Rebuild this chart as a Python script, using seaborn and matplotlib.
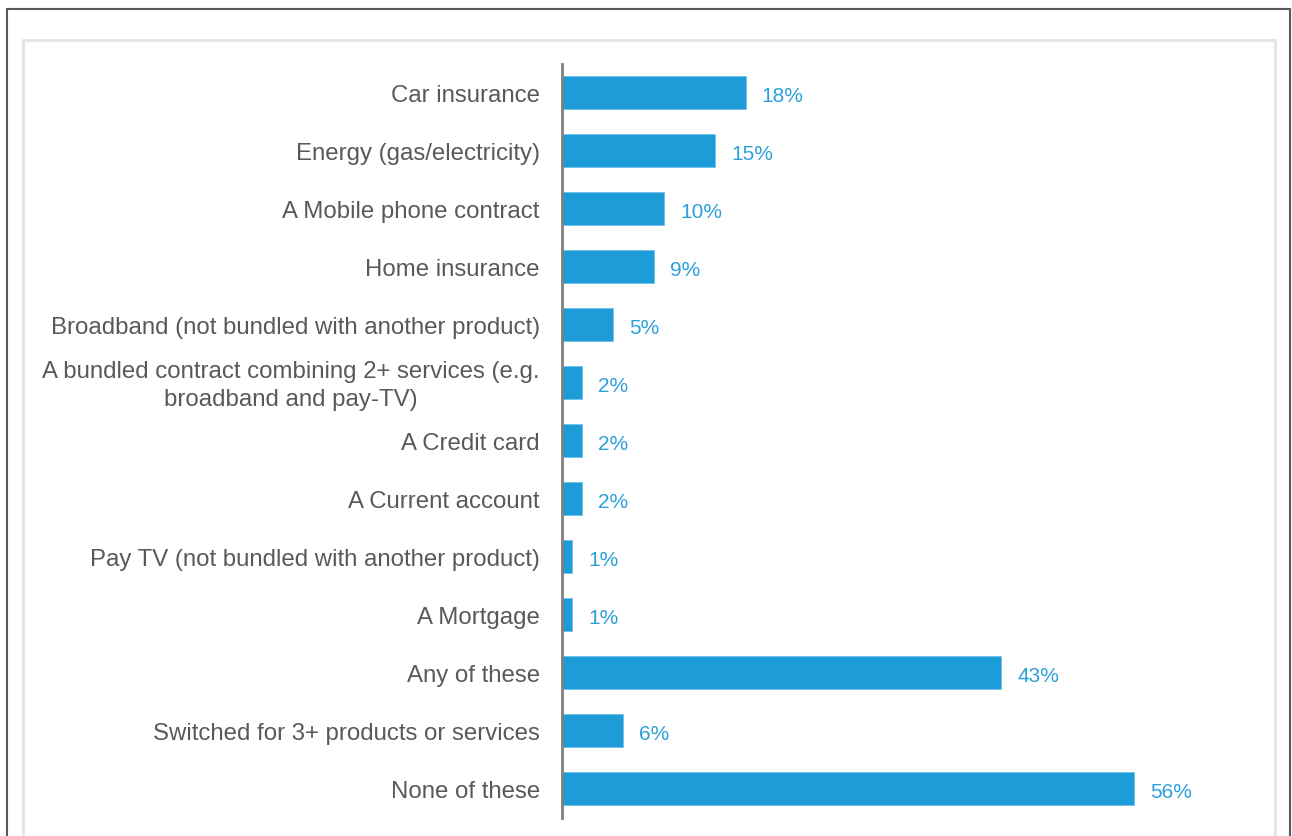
import matplotlib
matplotlib.use("Agg")
import matplotlib.pyplot as plt
import matplotlib.transforms as mtransforms
import seaborn as sns
import pandas as pd
from matplotlib.patches import Rectangle

categories = [
    "Car insurance",
    "Energy (gas/electricity)",
    "A Mobile phone contract",
    "Home insurance",
    "Broadband (not bundled with another product)",
    "A bundled contract combining 2+ services (e.g.\nbroadband and pay-TV)",
    "A Credit card",
    "A Current account",
    "Pay TV (not bundled with another product)",
    "A Mortgage",
    "Any of these",
    "Switched for 3+ products or services",
    "None of these",
]
values = [18, 15, 10, 9, 5, 2, 2, 2, 1, 1, 43, 6, 56]

df = pd.DataFrame({"category": categories, "share": values})

sns.set_theme(style="white")
plt.rcParams["font.family"] = ["Liberation Sans", "DejaVu Sans"]

W, H = 1292, 837
fig = plt.figure(figsize=(W / 100, H / 100), dpi=100)

# outer and inner frames (open at the bottom)
fig.patches.append(Rectangle((6.5 / W, -0.05), (1290 - 6.5) / W, 1.05 - 9.5 / H,
                             transform=fig.transFigure, fill=False,
                             edgecolor="#595959", linewidth=1.5))
fig.patches.append(Rectangle((23 / W, -0.05), (1275 - 23) / W, 1.05 - 41 / H,
                             transform=fig.transFigure, fill=False,
                             edgecolor="#E6E6E6", linewidth=2.2))

ax_left, ax_right = 562, 1250
ax_top, ax_bottom = 64.5, 818.5
ax = fig.add_axes([ax_left / W, (H - ax_bottom) / H,
                   (ax_right - ax_left) / W, (ax_bottom - ax_top) / H])

bar_color = "#1E9CD8"
sns.barplot(data=df, y="category", x="share", orient="h", color=bar_color,
            width=0.57, saturation=1, edgecolor="#6FC0E8", linewidth=0.6, ax=ax)

px_per_unit = (1134 - 562) / 56
ax.set_xlim(0, (ax_right - ax_left) / px_per_unit)
ax.set_ylim(len(categories) - 0.5, -0.5)

for i, v in enumerate(values):
    ax.annotate(f"{v}%", xy=(v, i), xytext=(11.5, -2.2), textcoords="offset points",
                va="center", ha="left", fontsize=15, color="#2CA0DA")

ax.set_xlabel("")
ax.set_ylabel("")
ax.set_xticks([])
ax.tick_params(axis="y", length=0, pad=16, labelsize=17.3, labelcolor="#595959")
lift = mtransforms.ScaledTranslation(0, 3 / 100, fig.dpi_scale_trans)
for lbl in ax.get_yticklabels():
    lbl.set_multialignment("center")
    lbl.set_linespacing(1.35)
    if "\n" in lbl.get_text():
        lbl.set_transform(lbl.get_transform() + lift)

for s in ["top", "right", "bottom"]:
    ax.spines[s].set_visible(False)
ax.spines["left"].set_color("#7F7F7F")
ax.spines["left"].set_linewidth(2)
ax.patch.set_alpha(0)

fig.savefig("out.png", dpi=100)
